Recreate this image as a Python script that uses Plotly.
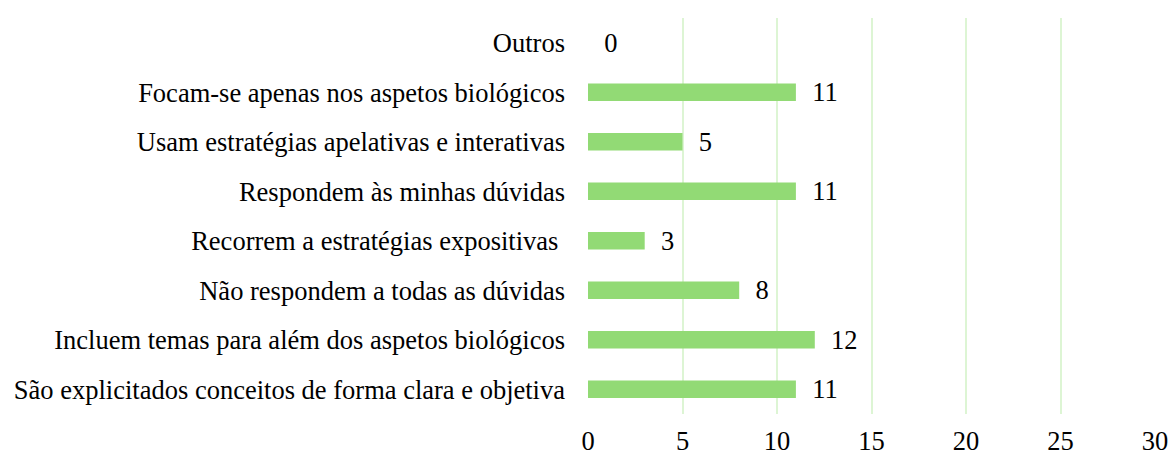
import plotly.graph_objects as go

categories = [
    "Outros",
    "Focam-se apenas nos aspetos biológicos",
    "Usam estratégias apelativas e interativas",
    "Respondem às minhas dúvidas",
    "Recorrem a estratégias expositivas ",
    "Não respondem a todas as dúvidas",
    "Incluem temas para além dos aspetos biológicos",
    "São explicitados conceitos de forma clara e objetiva",
]
values = [0, 11, 5, 11, 3, 8, 12, 11]
x_ticks = [0, 5, 10, 15, 20, 25, 30]

font_family = "Liberation Serif"
fsize = 26.5

fig = go.Figure()

fig.add_trace(go.Bar(
    y=categories,
    x=values,
    orientation='h',
    marker=dict(color='#92DA75', line=dict(width=0)),
    width=0.35,
    text=values,
    texttemplate='  %{x}',
    textposition='outside',
    constraintext='none',
    textfont=dict(family=font_family, size=fsize, color='black'),
    cliponaxis=False,
    showlegend=False,
))

fig.update_layout(
    width=1170,
    height=450,
    margin=dict(l=588, r=15, t=18, b=36),
    plot_bgcolor='white',
    paper_bgcolor='white',
    font=dict(family=font_family, size=fsize, color='black'),
    xaxis=dict(
        range=[0, 30],
        tickvals=x_ticks,
        showgrid=True,
        gridcolor='#DDF5D4',
        gridwidth=2,
        zeroline=False,
        showline=False,
        ticks='',
        automargin=False,
        ticklabelstandoff=8,
        tickfont=dict(family=font_family, size=fsize, color='black'),
    ),
    yaxis=dict(
        autorange='reversed',
        showgrid=False,
        zeroline=False,
        showline=False,
        ticks='',
        automargin=False,
        ticklabelstandoff=22,
        tickfont=dict(family=font_family, size=fsize, color='black'),
    ),
)

# remove the default page margin so the figure sits at the window's corner
fig.write_html("out.html", config={'displayModeBar': False},
               post_script="document.body.style.margin='0';")
